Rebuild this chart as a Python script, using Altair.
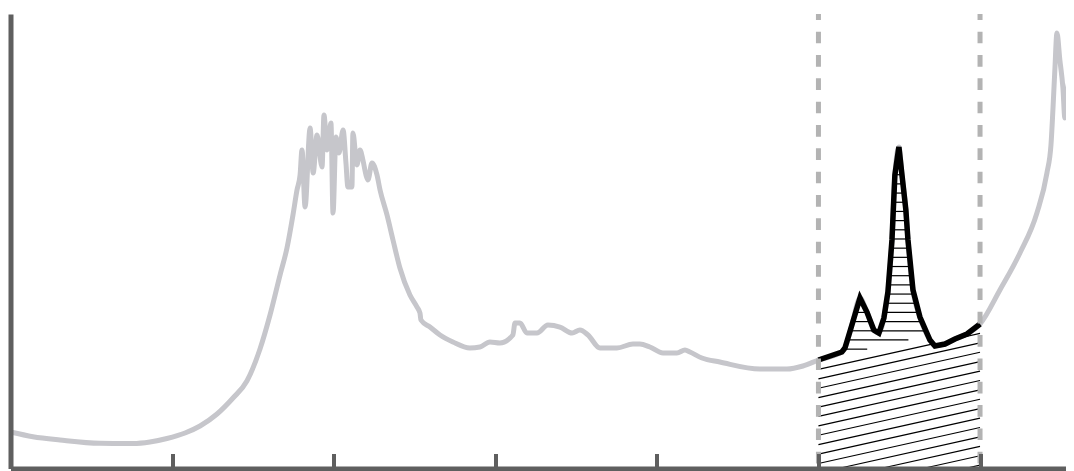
import altair as alt
import pandas as pd
import numpy as np

# ---- data (x in axis units: ticks every 100; y in % of axis height) ----
gray_left_x = [0, 13.9, 30.6, 55.4, 75.8, 86.3, 96.8, 108.0, 117.3, 127.8, 137.7, 146.3, 154.4,
               160.6, 166.8, 171.1, 174.8, 177.3, 179.2, 180.4, 182.3, 185.4, 187.3, 189.7, 192.8,
               194.0, 195.9, 198.3, 199.6, 201.4, 203.3, 205.8, 207.6, 208.8, 211.3, 211.9, 214.4,
               216.3, 218.1, 220.0, 221.2, 223.7, 226.8, 228.7, 233.0, 236.7, 241.0, 247.2, 251.6,
               253.4, 254.0, 259.6, 265.8, 273.8, 284.3, 290.5, 296.7, 302.9, 310.9, 312.2, 315.3,
               319.6, 325.8, 332.6, 340.0, 347.5, 352.4, 357.4, 364.8, 375.3, 385.2, 389.5, 395.7,
               403.8, 412.4, 417.4, 420.5, 427.9, 439.0, 463.8, 480.5, 490.4]
gray_left_y = [8.03, 7.0, 6.27, 5.54, 5.5, 5.83, 6.6, 7.81, 9.35, 11.99, 15.51, 19.25, 26.29,
               33.77, 42.57, 48.51, 55.78, 61.28, 64.58, 70.08, 57.54, 74.92, 65.02, 73.38, 66.34,
               77.78, 70.08, 76.02, 56.22, 72.94, 69.42, 74.48, 67.22, 61.94, 61.94, 73.82, 66.78,
               70.08, 67.88, 64.58, 63.48, 67.22, 64.58, 61.28, 55.78, 50.28, 44.11, 38.17, 35.53,
               34.21, 32.67, 31.13, 29.37, 27.83, 26.51, 26.73, 27.83, 27.61, 29.37, 32.01, 32.01,
               29.81, 29.81, 31.57, 31.13, 29.81, 30.47, 29.37, 26.51, 26.51, 27.39, 27.39, 26.73,
               25.41, 25.41, 26.07, 25.63, 24.31, 23.43, 21.89, 21.89, 22.55]

peak_x = [500, 514.5, 516.4, 520.7, 525.7, 530.0, 534.3, 537.4, 540.5, 543.0, 545.5, 547.3,
          549.8, 551.7, 554.1, 555.4, 558.5, 562.8, 569.0, 572.1, 578.3, 584.5, 591.9, 600]
peak_y = [23.87, 25.63, 26.51, 31.57, 37.51, 34.43, 30.47, 29.81, 33.11, 38.83, 50.28, 64.58,
          70.74, 64.58, 56.88, 50.28, 39.27, 33.33, 28.27, 26.95, 27.39, 28.49, 29.59, 31.79]

gray_right_x = [612.3, 624.7, 635.2, 641.4, 643.9, 645.1, 646.3, 647.6, 649.4, 651.3, 652.5,
                653.8, 655.6, 656.9, 658.1]
gray_right_y = [39.27, 47.41, 56.22, 65.02, 71.2, 78.9, 87.7, 95.82, 89.88, 83.72, 77.12,
                82.18, 85.92, 82.18, 85.04]

tick_values = [0, 100, 200, 300, 400, 500, 600]
region_bounds = [500, 600]

# ---- styling ----
W, H = 1055.5, 454.5
X_MAX, Y_MAX = 653.2, 100
AXIS_COLOR = "#5f5f5f"
GRAY = "#c6c6cb"
DASH = "#b3b3b3"
H_SPACING = 2.02   # horizontal hatch spacing (y units)
D_SPACING = 2.07   # diagonal hatch vertical spacing (y units)

x_scale = alt.Scale(domain=[0, X_MAX], nice=False, zero=False)
y_scale = alt.Scale(domain=[0, Y_MAX], nice=False, zero=False)

gray_df = pd.DataFrame({
    "x": gray_left_x + peak_x + gray_right_x,
    "y": gray_left_y + peak_y + gray_right_y,
})
gray_df["order"] = range(len(gray_df))
peak_df = pd.DataFrame({"x": peak_x, "y": peak_y})
peak_df["order"] = range(len(peak_df))

# ---- hatch segments derived from the peak data ----
xs = np.linspace(peak_x[0], peak_x[-1], 8001)
curve = np.interp(xs, peak_x, peak_y)
base = peak_y[0] + (peak_y[-1] - peak_y[0]) * (xs - peak_x[0]) / (peak_x[-1] - peak_x[0])


def runs(mask):
    out = []
    start = None
    for i, m in enumerate(mask):
        if m and start is None:
            start = i
        elif not m and start is not None:
            out.append((start, i - 1))
            start = None
    if start is not None:
        out.append((start, len(mask) - 1))
    return out


hseg = []
h = H_SPACING
while h < max(peak_y):
    m = (base < h) & (curve > h)
    for a, b in runs(m):
        if b > a:
            hseg.append({"x": xs[a], "x2": xs[b], "y": h, "y2": h})
    h += H_SPACING

dseg = []
k = 1
while True:
    line = base - k * D_SPACING
    if line.max() <= 0:
        break
    m = (line > 0) & (line < curve)
    for a, b in runs(m):
        if b > a:
            dseg.append({"x": xs[a], "x2": xs[b], "y": line[a], "y2": line[b]})
    k += 1

hatch_df = pd.DataFrame(hseg + dseg)

no_axis_x = alt.X("x:Q", scale=x_scale, axis=None)
no_axis_y = alt.Y("y:Q", scale=y_scale, axis=None)

gray = alt.Chart(gray_df).mark_line(color=GRAY, strokeWidth=5, clip=True,
                                    interpolate="monotone").encode(
    x=alt.X("x:Q", scale=x_scale,
            axis=alt.Axis(orient="bottom", domain=True, domainColor=AXIS_COLOR, domainWidth=5,
                          ticks=False, labels=False, grid=False, title=None, zindex=1)),
    y=alt.Y("y:Q", scale=y_scale,
            axis=alt.Axis(orient="left", domain=True, domainColor=AXIS_COLOR, domainWidth=5,
                          ticks=False, labels=False, grid=False, title=None, zindex=1)),
    order="order:Q",
)

hatch = alt.Chart(hatch_df).mark_rule(color="black", strokeWidth=1.2).encode(
    x=no_axis_x, x2="x2:Q", y=no_axis_y, y2="y2:Q"
)

peak = alt.Chart(peak_df).mark_line(color="black", strokeWidth=5.5).encode(
    x=no_axis_x, y=no_axis_y, order="order:Q"
)

bounds = alt.Chart(pd.DataFrame({"x": region_bounds})).mark_rule(
    color=DASH, strokeWidth=5, strokeDash=[11.67, 11.67], strokeDashOffset=5.7
).encode(
    x=alt.X("x:Q", scale=x_scale,
            axis=alt.Axis(orient="bottom", domain=False, ticks=True, tickSize=15, tickWidth=4,
                          tickColor=AXIS_COLOR, values=tick_values, offset=-15,
                          labels=False, grid=False, title=None, zindex=1)),
    y=alt.value(0),
    y2=alt.value(H),
)

chart = alt.layer(gray, hatch, peak, bounds).resolve_axis(
    x="independent", y="independent"
).properties(
    width=W, height=H,
    autosize=alt.AutoSizeParams(type="none"),
    padding={"left": 2.5, "top": 6, "right": 0, "bottom": 2.5},
    background="white",
).configure_view(stroke=None)

chart.save("out.html", embed_options={"renderer": "svg", "actions": False})
